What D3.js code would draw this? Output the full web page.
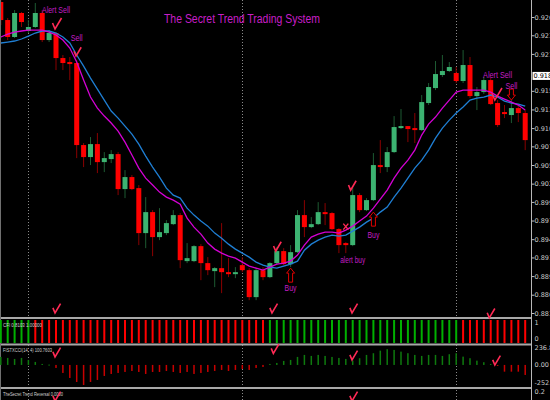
<!DOCTYPE html>
<html>
<head>
<meta charset="utf-8">
<script src="https://cdn.jsdelivr.net/npm/d3@7"></script>
<style>
  body { margin: 0; background: #000; }
  svg { display: block; font-family: "Liberation Sans", Arial, sans-serif; }
</style>
</head>
<body>
<svg id="chart" width="550" height="400"></svg>
<script>
// price data, one candle per bar (77 bars)
const opens = [0.92877,0.92616,0.92370,0.92718,0.92457,0.92515,0.92718,0.92326,0.92428,0.92065,
  0.92007,0.91993,0.90804,0.90630,0.90818,0.90557,0.90601,0.90673,0.90166,0.90340,
  0.90180,0.89528,0.89832,0.89470,0.89528,0.89658,0.89789,0.89122,0.89122,0.89339,
  0.89093,0.88977,0.89020,0.88962,0.88933,0.89064,0.88991,0.88600,0.88991,0.88890,
  0.89093,0.89267,0.89078,0.89252,0.89789,0.89615,0.89658,0.89832,0.89818,0.89586,
  0.89383,0.89354,0.90079,0.89861,0.90006,0.90514,0.90485,0.90702,0.91050,0.91079,
  0.91050,0.91021,0.91413,0.91630,0.91819,0.91877,0.91848,0.91732,0.91964,0.91514,
  0.91572,0.91746,0.91413,0.91282,0.91239,0.91340,0.91268];
const highs = [0.92906,0.92645,0.92761,0.92732,0.92616,0.92863,0.92761,0.92471,0.92442,0.92109,
  0.92080,0.92036,0.90833,0.90920,0.90978,0.90702,0.90731,0.90702,0.90441,0.90369,
  0.90224,0.90050,0.89861,0.89890,0.89716,0.89861,0.89818,0.89383,0.89354,0.89368,
  0.89180,0.89035,0.89673,0.89165,0.89035,0.89180,0.89020,0.89020,0.89035,0.89107,
  0.89325,0.89310,0.89354,0.89861,0.90006,0.89760,0.89977,0.89963,0.89832,0.89600,
  0.89397,0.90195,0.90108,0.90035,0.90688,0.90876,0.90775,0.91224,0.91326,0.91079,
  0.91268,0.91529,0.91703,0.92022,0.92109,0.92007,0.91935,0.92181,0.92080,0.91645,
  0.91790,0.91775,0.91456,0.91384,0.91456,0.91369,0.91311];
const lows = [0.92544,0.92326,0.92355,0.92515,0.92428,0.92500,0.92297,0.92297,0.91891,0.91891,
  0.91746,0.90615,0.90485,0.90514,0.90398,0.90412,0.90543,0.90079,0.90035,0.90151,
  0.89354,0.89310,0.89194,0.89426,0.89499,0.89644,0.89020,0.89093,0.89107,0.88846,
  0.88919,0.88745,0.88658,0.88890,0.88875,0.88962,0.88556,0.88556,0.88846,0.88875,
  0.89064,0.89064,0.89035,0.89238,0.89470,0.89600,0.89644,0.89644,0.89571,0.89238,
  0.89238,0.89339,0.89832,0.89847,0.89992,0.90398,0.90412,0.90688,0.91036,0.90847,
  0.90833,0.91007,0.91384,0.91601,0.91790,0.91862,0.91703,0.91703,0.91485,0.91311,
  0.91543,0.91384,0.91065,0.91195,0.91123,0.91137,0.90731];
const closes = [0.92616,0.92370,0.92718,0.92587,0.92515,0.92718,0.92326,0.92428,0.92065,0.91993,
  0.91978,0.90804,0.90630,0.90818,0.90557,0.90615,0.90673,0.90166,0.90340,0.90166,
  0.89528,0.89832,0.89470,0.89542,0.89673,0.89789,0.89136,0.89165,0.89339,0.89093,
  0.88991,0.89020,0.88962,0.88933,0.88962,0.88991,0.88600,0.88991,0.88890,0.89093,
  0.89267,0.89078,0.89252,0.89789,0.89615,0.89658,0.89832,0.89803,0.89586,0.89354,
  0.89354,0.90079,0.89861,0.90006,0.90514,0.90485,0.90702,0.91065,0.91079,0.91036,
  0.91021,0.91427,0.91645,0.91833,0.91877,0.91935,0.91732,0.91964,0.91514,0.91572,
  0.91746,0.91398,0.91094,0.91253,0.91340,0.91268,0.90876];

// moving averages (magenta = fast, blue = slow)
const maFast = [0.92370,0.92413,0.92442,0.92457,0.92471,0.92471,0.92471,0.92442,0.92399,0.92326,
  0.92210,0.92007,0.91746,0.91500,0.91340,0.91224,0.91123,0.91007,0.90847,0.90659,
  0.90470,0.90325,0.90224,0.90122,0.90050,0.90006,0.89948,0.89745,0.89615,0.89513,
  0.89383,0.89296,0.89238,0.89194,0.89165,0.89107,0.89049,0.89020,0.88991,0.89035,
  0.89078,0.89093,0.89122,0.89209,0.89354,0.89470,0.89513,0.89542,0.89542,0.89528,
  0.89571,0.89629,0.89702,0.89774,0.89890,0.90021,0.90151,0.90325,0.90470,0.90586,
  0.90731,0.90949,0.91108,0.91210,0.91340,0.91456,0.91572,0.91601,0.91601,0.91601,
  0.91601,0.91572,0.91514,0.91471,0.91427,0.91384,0.91311];
const maSlow = [0.92283,0.92297,0.92312,0.92341,0.92384,0.92428,0.92457,0.92457,0.92428,0.92370,
  0.92283,0.92109,0.91949,0.91775,0.91616,0.91456,0.91297,0.91195,0.91079,0.90963,
  0.90818,0.90644,0.90485,0.90340,0.90180,0.90079,0.90035,0.89890,0.89789,0.89702,
  0.89629,0.89528,0.89455,0.89368,0.89296,0.89238,0.89180,0.89107,0.89064,0.89035,
  0.89020,0.89049,0.89078,0.89122,0.89281,0.89368,0.89426,0.89470,0.89499,0.89484,
  0.89499,0.89557,0.89615,0.89687,0.89745,0.89832,0.89905,0.90050,0.90180,0.90325,
  0.90470,0.90586,0.90731,0.90905,0.91050,0.91166,0.91268,0.91355,0.91456,0.91485,
  0.91500,0.91529,0.91500,0.91442,0.91413,0.91398,0.91369];

// indicator panels
const cfiSignal = [1,1,1,1,1,-1,-1,-1,-1,-1,-1,-1,-1,-1,-1,-1,-1,-1,-1,-1,
  -1,-1,-1,-1,-1,-1,-1,-1,-1,-1,-1,-1,-1,-1,-1,-1,-1,-1,-1,1,
  1,1,1,1,1,1,1,1,1,1,1,1,1,1,1,1,1,1,1,1,
  1,1,1,1,1,1,1,-1,-1,-1,-1,-1,-1,-1,-1,-1,-1];
const osc = [112,98,84,98,70,42,14,5,-42,-112,-182,-238,-280,-238,-210,-154,-126,-112,-98,-84,
  -98,-126,-98,-98,-84,-98,-112,-98,-126,-112,-98,-84,-70,-84,-70,-56,-70,-42,-28,14,
  28,56,70,112,140,126,140,126,112,98,84,60,94,140,164,200,220,210,186,164,
  140,126,140,140,126,150,164,116,94,60,38,14,-5,-94,-94,-94,-140];

const priceTicks = [0.92660,0.92395,0.92125,0.91855,0.91590,0.91320,0.91050,0.90785,0.90515,
  0.90245,0.89980,0.89710,0.89440,0.89175,0.88905,0.88635,0.88370];
const currentPrice = 0.91806;
const separators = [4, 35, 66];

// annotations: bar index and price
const labels = [
  {i: 8, p: 0.92718, t: "Alert Sell", w: 28},
  {i: 11, p: 0.92312, t: "Sell", w: 12},
  {i: 42, p: 0.88687, t: "Buy", w: 12},
  {i: 51, p: 0.89093, t: "alert buy", w: 25},
  {i: 54, p: 0.89455, t: "Buy", w: 12},
  {i: 72, p: 0.91775, t: "Alert Sell", w: 29},
  {i: 74, p: 0.91615, t: "Sell", w: 12}
];
const checks = [
  {i: 7.86, p: 0.92486, s: 1}, {i: 10.9, p: 0.92094, s: 0.8},
  {i: 39.84, p: 0.89267, s: 0.85}, {i: 50.7, p: 0.90151, s: 0.85},
  {i: 71.6, p: 0.91456, s: 1.1},
  {i: 7.86, p: 0.88370, s: 0.85}, {i: 39.3, p: 0.88370, s: 0.85},
  {i: 50.9, p: 0.88370, s: 0.85}, {i: 70.8, p: 0.88300, s: 0.85}
];
const oscChecks = [{i: 7.86, v: 112}, {i: 39.5, v: 160}, {i: 50.9, v: 70}, {i: 71.6, v: 0}];
const lowChecks = [7.86, 50.9];
const upArrows = [{i: 42, p: 0.89020}, {i: 54, p: 0.89832}];
const downArrows = [{i: 74, p: 0.91456}];
const crosses = [{i: 50, p: 0.89622}];

const svg = d3.select("#chart");
const W = 550, H = 400, axisX = 531.5;

svg.append("rect").attr("width", W).attr("height", H).attr("fill", "#000");

const x = d3.scaleLinear().domain([0, opens.length - 1]).range([0.8, 525.2]);
const y = d3.scaleLinear().domain([0.8837, 0.9266]).range([313, 17]);
const yCfi = d3.scaleLinear().domain([0, 1]).range([343, 320]);
const yOsc = d3.scaleLinear().domain([-252.3652, 236.8074]).range([383, 348]);

// dotted period separators
svg.selectAll("line.sep").data(separators).enter().append("line")
  .attr("x1", d => Math.round(x(d)) + 0.5).attr("x2", d => Math.round(x(d)) + 0.5)
  .attr("y1", 0).attr("y2", H)
  .attr("stroke", "#8a8a8a").attr("stroke-dasharray", "1,2");

// candles
const candles = svg.append("g");
opens.forEach((o, i) => {
  const c = closes[i], up = c >= o;
  const cx = x(i);
  candles.append("line")
    .attr("x1", cx).attr("x2", cx)
    .attr("y1", y(highs[i])).attr("y2", y(lows[i]))
    .attr("stroke", up ? "#1d5a32" : "#8a0000").attr("stroke-width", 1);
  const top = y(Math.max(o, c)), bot = y(Math.min(o, c));
  candles.append("rect")
    .attr("x", cx - 2.5).attr("width", 5)
    .attr("y", top).attr("height", Math.max(1.5, bot - top))
    .attr("fill", up ? "#3cb371" : "#ff0000");
});

// moving averages
const line = d3.line().x((d, i) => x(i)).y(d => y(d));
svg.append("path").datum(maSlow).attr("d", line)
  .attr("fill", "none").attr("stroke", "#1f7fd4").attr("stroke-width", 1.3);
svg.append("path").datum(maFast).attr("d", line)
  .attr("fill", "none").attr("stroke", "#d400d4").attr("stroke-width", 1.3);

// panel frames
[318, 344.5, 388].forEach(v => {
  svg.append("line").attr("x1", 0).attr("x2", axisX).attr("y1", v).attr("y2", v)
    .attr("stroke", "#a8a8a8").attr("stroke-width", 2);
});
svg.append("line").attr("x1", 0.5).attr("x2", 0.5).attr("y1", 0).attr("y2", H)
  .attr("stroke", "#707070");

// CFI panel bars
svg.append("g").selectAll("rect").data(cfiSignal).enter().append("rect")
  .attr("x", (d, i) => x(i) - 1).attr("width", 2)
  .attr("y", yCfi(1)).attr("height", yCfi(0) - yCfi(1))
  .attr("fill", d => d > 0 ? "#00b000" : "#ff0000");

// oscillator histogram
svg.append("g").selectAll("rect").data(osc).enter().append("rect")
  .attr("x", (d, i) => x(i) - 0.75).attr("width", 1.5)
  .attr("y", d => yOsc(Math.max(0, d)))
  .attr("height", d => Math.max(1, Math.abs(yOsc(d) - yOsc(0))))
  .attr("fill", d => d >= 0 ? "#0e7a0e" : "#c80000");

// price axis (the label under the current price box is hidden)
const shownTicks = priceTicks.filter(p => Math.abs(y(p) - y(currentPrice)) > 6);
const axis = svg.append("g").attr("transform", `translate(${axisX},0)`)
  .call(d3.axisRight(y).tickValues(shownTicks).tickSize(3).tickFormat(d => d.toFixed(5)));
axis.select(".domain").remove();
axis.selectAll("line").attr("stroke", "#c0c0c0");
axis.selectAll("text").attr("fill", "#c8c8c8").attr("font-size", 6.5).attr("x", 3)
  .attr("font-family", "'DejaVu Sans', sans-serif");
svg.append("line").attr("x1", axisX).attr("x2", axisX).attr("y1", 0).attr("y2", H)
  .attr("stroke", "#b8b8b8");

// current price box
svg.append("rect").attr("x", axisX + 1).attr("y", y(currentPrice) - 4).attr("width", 20).attr("height", 8)
  .attr("fill", "#fff");
svg.append("text").attr("x", axisX + 2).attr("y", y(currentPrice) + 2.3)
  .attr("font-size", 6.5).attr("font-family", "'DejaVu Sans', sans-serif")
  .attr("fill", "#000").text(currentPrice.toFixed(5));

// panel scale labels
const panelLabels = [
  {v: yCfi(1) + 3, t: "1"}, {v: yCfi(0) - 4, t: "0"},
  {v: yOsc(236.8074), t: "236.8074"}, {v: yOsc(0), t: "0.00"},
  {v: yOsc(-252.3652), t: "-252.3652"}, {v: 392, t: "0.2"}
];
svg.selectAll("text.pl").data(panelLabels).enter().append("text")
  .attr("x", axisX + 3).attr("y", d => d.v + 2.3)
  .attr("font-size", 6.5).attr("font-family", "'DejaVu Sans', sans-serif")
  .attr("fill", "#c8c8c8").text(d => d.t);

// panel titles
const titles = [
  {v: 327, t: "CFI 0.8103 1.00000", w: 39},
  {v: 352, t: "FISTXCCI(14, 4) 100.7603", w: 49},
  {v: 396, t: "TheSecret Trend Reversal 0.0000", w: 60}
];
svg.selectAll("text.pt").data(titles).enter().append("text")
  .attr("x", 3).attr("y", d => d.v)
  .attr("font-size", 6).attr("fill", "#d0d0d0")
  .attr("textLength", d => d.w).attr("lengthAdjust", "spacingAndGlyphs")
  .text(d => d.t);

// check marks
function checkPath(s) {
  return `M${-2.5 * s},${-6 * s} L0,0 L${6.5 * s},${-11 * s}`;
}
svg.selectAll("path.chk").data(checks).enter().append("path")
  .attr("transform", d => `translate(${x(d.i)},${y(d.p)})`)
  .attr("d", d => checkPath(d.s))
  .attr("fill", "none").attr("stroke", "#ff2a55").attr("stroke-width", 1.6);
svg.selectAll("path.ochk").data(oscChecks).enter().append("path")
  .attr("transform", d => `translate(${x(d.i)},${yOsc(d.v)})`)
  .attr("d", checkPath(0.85))
  .attr("fill", "none").attr("stroke", "#ff2a55").attr("stroke-width", 1.6);
svg.selectAll("path.lchk").data(lowChecks).enter().append("path")
  .attr("transform", d => `translate(${x(d)},${H + 1})`)
  .attr("d", checkPath(0.85))
  .attr("fill", "none").attr("stroke", "#ff2a55").attr("stroke-width", 1.6);

// hollow arrows
svg.selectAll("path.up").data(upArrows).enter().append("path")
  .attr("transform", d => `translate(${x(d.i)},${y(d.p)})`)
  .attr("d", "M0,0 L4,5 L2,5 L2,14 L-2,14 L-2,5 L-4,5 Z")
  .attr("fill", "#000").attr("stroke", "#e00000").attr("stroke-width", 1);
svg.selectAll("path.dn").data(downArrows).enter().append("path")
  .attr("transform", d => `translate(${x(d.i)},${y(d.p)})`)
  .attr("d", "M0,0 L4,-5 L2,-5 L2,-11 L-2,-11 L-2,-5 L-4,-5 Z")
  .attr("fill", "#000").attr("stroke", "#e00000").attr("stroke-width", 1);

// cross mark
svg.selectAll("path.x").data(crosses).enter().append("path")
  .attr("transform", d => `translate(${x(d.i)},${y(d.p)})`)
  .attr("d", "M-2.5,-3 L2.5,3 M2.5,-3 L-2.5,3")
  .attr("stroke", "#ff2a55").attr("stroke-width", 1.4);

// signal labels
svg.selectAll("text.sig").data(labels).enter().append("text")
  .attr("x", d => x(d.i)).attr("y", d => y(d.p))
  .attr("text-anchor", "middle").attr("font-size", 8.5).attr("fill", "#c41cc4")
  .attr("textLength", d => d.w).attr("lengthAdjust", "spacingAndGlyphs")
  .text(d => d.t);

// title
svg.append("text").attr("x", 164).attr("y", 23)
  .attr("font-size", 12).attr("fill", "#c81ec8")
  .attr("textLength", 156).attr("lengthAdjust", "spacingAndGlyphs")
  .text("The Secret Trend Trading System");
</script>
</body>
</html>
